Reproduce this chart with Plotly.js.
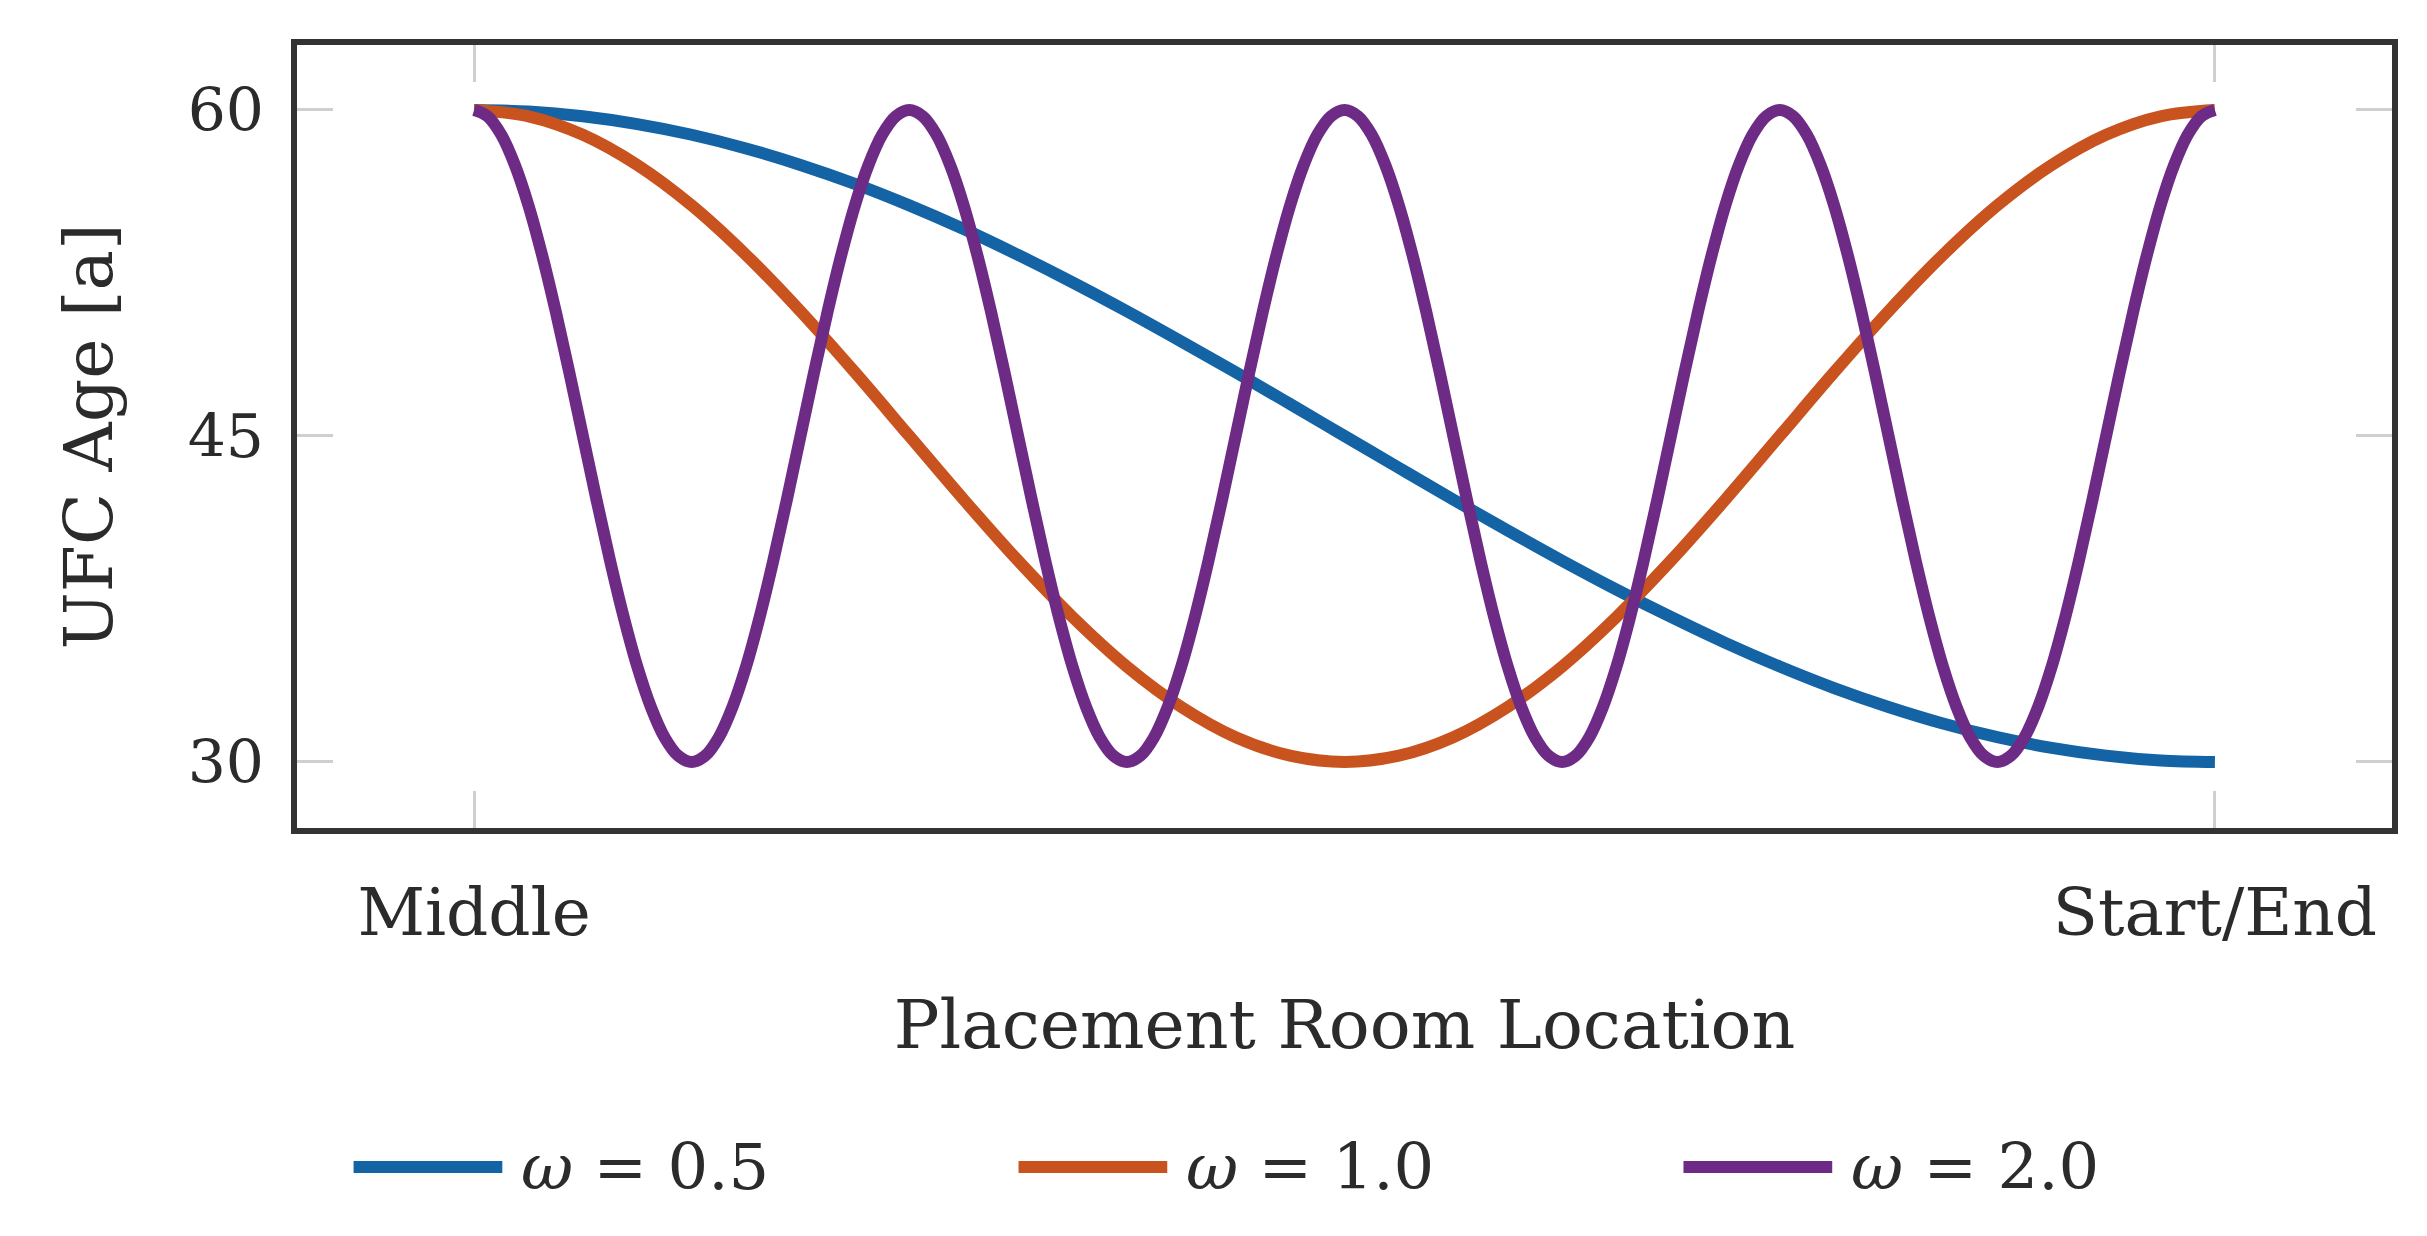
<!DOCTYPE html>
<html>
<head>
<meta charset="utf-8">
<script src="https://cdn.plot.ly/plotly-3.0.1.min.js"></script>
<style>
  html, body { margin: 0; padding: 0; background: #fff; }
  #chart { width: 2427px; height: 1236px; }
</style>
</head>
<body>
<div id="chart"></div>
<script>
// position along the room axis in steps: 0 = Middle, 128 = Start/End
var xMid = [0, 4, 8, 12, 16, 20, 24, 28, 32, 36, 40, 44, 48, 52, 56, 60,
            64, 68, 72, 76, 80, 84, 88, 92, 96, 100, 104, 108, 112, 116, 120, 124, 128];
var xFine = [0, 1, 2, 3, 4, 5, 6, 7, 8, 9, 10, 11, 12, 13, 14, 15,
             16, 17, 18, 19, 20, 21, 22, 23, 24, 25, 26, 27, 28, 29, 30, 31,
             32, 33, 34, 35, 36, 37, 38, 39, 40, 41, 42, 43, 44, 45, 46, 47,
             48, 49, 50, 51, 52, 53, 54, 55, 56, 57, 58, 59, 60, 61, 62, 63,
             64, 65, 66, 67, 68, 69, 70, 71, 72, 73, 74, 75, 76, 77, 78, 79,
             80, 81, 82, 83, 84, 85, 86, 87, 88, 89, 90, 91, 92, 93, 94, 95,
             96, 97, 98, 99, 100, 101, 102, 103, 104, 105, 106, 107, 108, 109, 110, 111,
             112, 113, 114, 115, 116, 117, 118, 119, 120, 121, 122, 123, 124, 125, 126, 127, 128];

// UFC age
var ageW05 = [60, 59.93, 59.71, 59.35, 58.86, 58.23, 57.47, 56.60,
              55.61, 54.52, 53.33, 52.07, 50.74, 49.35, 47.93, 46.47,
              45, 43.53, 42.07, 40.65, 39.26, 37.93, 36.67, 35.48,
              34.39, 33.40, 32.53, 31.77, 31.14, 30.65, 30.29, 30.07, 30];
var ageW10 = [60, 59.71, 58.86, 57.47, 55.61, 53.33, 50.74, 47.93,
              45, 42.07, 39.26, 36.67, 34.39, 32.53, 31.14, 30.29,
              30, 30.29, 31.14, 32.53, 34.39, 36.67, 39.26, 42.07,
              45, 47.93, 50.74, 53.33, 55.61, 57.47, 58.86, 59.71, 60];
var ageW20 = [60, 59.71, 58.86, 57.47, 55.61, 53.33, 50.74, 47.93,
              45, 42.07, 39.26, 36.67, 34.39, 32.53, 31.14, 30.29,
              30, 30.29, 31.14, 32.53, 34.39, 36.67, 39.26, 42.07,
              45, 47.93, 50.74, 53.33, 55.61, 57.47, 58.86, 59.71,
              60, 59.71, 58.86, 57.47, 55.61, 53.33, 50.74, 47.93,
              45, 42.07, 39.26, 36.67, 34.39, 32.53, 31.14, 30.29,
              30, 30.29, 31.14, 32.53, 34.39, 36.67, 39.26, 42.07,
              45, 47.93, 50.74, 53.33, 55.61, 57.47, 58.86, 59.71,
              60, 59.71, 58.86, 57.47, 55.61, 53.33, 50.74, 47.93,
              45, 42.07, 39.26, 36.67, 34.39, 32.53, 31.14, 30.29,
              30, 30.29, 31.14, 32.53, 34.39, 36.67, 39.26, 42.07,
              45, 47.93, 50.74, 53.33, 55.61, 57.47, 58.86, 59.71,
              60, 59.71, 58.86, 57.47, 55.61, 53.33, 50.74, 47.93,
              45, 42.07, 39.26, 36.67, 34.39, 32.53, 31.14, 30.29,
              30, 30.29, 31.14, 32.53, 34.39, 36.67, 39.26, 42.07,
              45, 47.93, 50.74, 53.33, 55.61, 57.47, 58.86, 59.71, 60];

var seriesNames = ['<i>ω</i> = 0.5', '<i>ω</i> = 1.0', '<i>ω</i> = 2.0'];
var tickVals = [0, 128];
var tickLabels = ['Middle', 'Start/End'];
var yTicks = [30, 45, 60];

var colors = ['#1463a5', '#c9531f', '#6d2b86'];
var font = 'DejaVu Serif';
var textColor = '#2b2b2b';

var xs = [xMid, xMid, xFine];
var ys = [ageW05, ageW10, ageW20];

var data = [];
for (var i = 0; i < 3; i++) {
    data.push({
        x: xs[i],
        y: ys[i],
        name: seriesNames[i],
        mode: 'lines',
        type: 'scatter',
        line: { color: colors[i], width: 12, shape: 'spline', smoothing: 1, simplify: false },
        showlegend: false
    });
}

// legend drawn by hand so the sample lines are long like the original
var shapes = [];
var annotations = [];
var legY = -0.433;
for (var j = 0; j < 3; j++) {
    var x0 = 0.027 + j * 0.3174;
    shapes.push({
        type: 'line', xref: 'paper', yref: 'paper',
        x0: x0, x1: x0 + 0.071, y0: legY, y1: legY,
        line: { color: colors[j], width: 12 }
    });
    annotations.push({
        xref: 'paper', yref: 'paper', x: x0 + 0.079, y: legY,
        xanchor: 'left', yanchor: 'middle', showarrow: false,
        text: seriesNames[j],
        font: { family: font, size: 64, color: textColor }
    });
}

var layout = {
    width: 2427,
    height: 1236,
    paper_bgcolor: '#fff',
    plot_bgcolor: '#fff',
    margin: { l: 297, r: 35, t: 45, b: 408 },
    font: { family: font, color: textColor },
    xaxis: {
        range: [-13.02, 141.02],
        tickvals: tickVals,
        ticktext: tickLabels,
        ticks: 'inside',
        ticklen: 37,
        tickwidth: 3,
        tickcolor: '#cfcfcf',
        tickfont: { family: font, size: 66, color: textColor },
        ticklabelstandoff: 22,
        showline: true,
        linecolor: '#333',
        linewidth: 6,
        mirror: 'ticks',
        showgrid: false,
        zeroline: false,
        title: {
            text: 'Placement Room Location',
            font: { family: font, size: 68, color: textColor },
            standoff: 52
        }
    },
    yaxis: {
        range: [26.96, 62.99],
        tickvals: yTicks,
        ticks: 'inside',
        ticklen: 36,
        tickwidth: 3,
        tickcolor: '#cfcfcf',
        tickfont: { family: font, size: 60, color: textColor },
        ticklabelstandoff: 15,
        showline: true,
        linecolor: '#333',
        linewidth: 6,
        mirror: 'ticks',
        showgrid: false,
        zeroline: false,
        title: {
            text: 'UFC Age [a]',
            font: { family: font, size: 68, color: textColor },
            standoff: 55
        }
    },
    shapes: shapes,
    annotations: annotations
};

Plotly.newPlot('chart', data, layout, { staticPlot: true });
</script>
</body>
</html>
